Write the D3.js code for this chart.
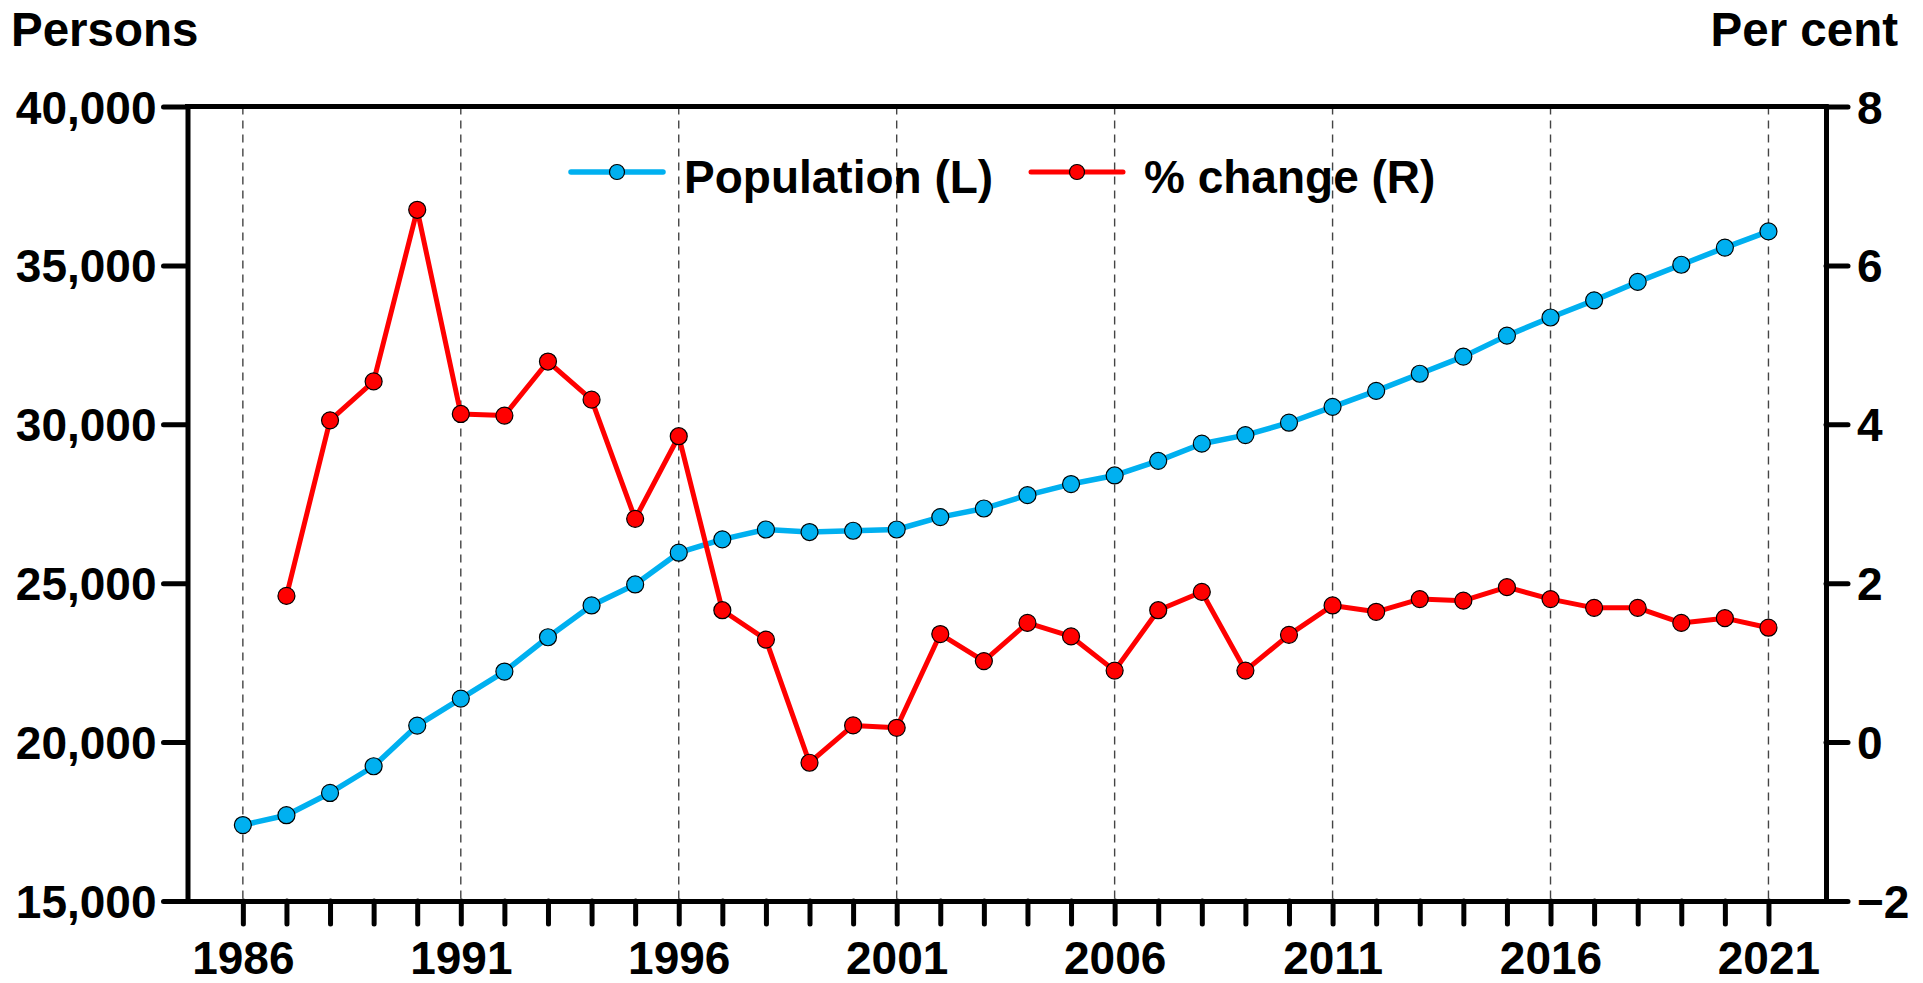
<!DOCTYPE html>
<html>
<head>
<meta charset="utf-8">
<script src="https://cdn.jsdelivr.net/npm/d3@7"></script>
<style>
  html, body { margin: 0; padding: 0; background: #fff; }
  svg { display: block; }
  text { font-family: "Liberation Sans", Arial, Helvetica, sans-serif; font-weight: bold; fill: #000; }
</style>
</head>
<body>
<svg id="chart" width="1923" height="983"></svg>
<script>
// Years shown on the horizontal axis
const years = d3.range(1986, 2022);

// Resident population, persons (left axis)
const population = [
  17390, 17700, 18400, 19240, 20520, 21370, 22220, 23300, 24300, 24960,
  25960, 26380, 26690, 26610, 26650, 26690, 27080, 27350, 27770, 28120,
  28390, 28850, 29390, 29660, 30050, 30550, 31050, 31590, 32130, 32790,
  33360, 33900, 34480, 35020, 35560, 36070
];

// Annual % change in population (right axis); no value for the first year
const pctChange = [
  null, 1.84, 4.05, 4.54, 6.70, 4.13, 4.11, 4.79, 4.31, 2.81,
  3.85, 1.66, 1.29, -0.26, 0.21, 0.18, 1.36, 1.02, 1.50, 1.33,
  0.90, 1.66, 1.89, 0.90, 1.35, 1.72, 1.64, 1.80, 1.78, 1.95,
  1.80, 1.69, 1.69, 1.50, 1.56, 1.44
];

// Axis ticks
const leftTicks = [15000, 20000, 25000, 30000, 35000, 40000];
const rightTicks = [-2, 0, 2, 4, 6, 8];
const labelledYears = [1986, 1991, 1996, 2001, 2006, 2011, 2016, 2021];

const seriesNames = ["Population (L)", "% change (R)"];
const seriesColors = ["#00B0F0", "#FF0000"];

const svg = d3.select("#chart");

const plot = { left: 187.5, right: 1826, top: 106.5, bottom: 901 };

const x = d3.scaleLinear().domain([1984.73, 2022.32]).range([plot.left, plot.right]);
const yL = d3.scaleLinear().domain([15000, 40000]).range([plot.bottom, plot.top]);
const yR = d3.scaleLinear().domain([-2, 8]).range([plot.bottom, plot.top]);

// Dashed vertical gridlines at the labelled years
svg.append("g")
  .selectAll("line")
  .data(labelledYears)
  .join("line")
  .attr("x1", d => x(d)).attr("x2", d => x(d))
  .attr("y1", plot.top).attr("y2", plot.bottom)
  .attr("stroke", "#444")
  .attr("stroke-width", 1.4)
  .attr("stroke-dasharray", "8,6");

// Axes
const axisStroke = 5;
function styleAxis(g) {
  g.selectAll("path.domain").attr("stroke", "#000").attr("stroke-width", axisStroke).attr("stroke-linecap", "square");
  g.selectAll(".tick line").attr("stroke", "#000").attr("stroke-width", axisStroke).attr("stroke-linecap", "round");
  g.selectAll(".tick text").style("font-size", "46px").attr("fill", "#000");
}

svg.append("g")
  .attr("transform", `translate(0,${plot.bottom})`)
  .call(d3.axisBottom(x)
    .tickValues(years)
    .tickSize(23)
    .tickSizeOuter(0)
    .tickPadding(17)
    .tickFormat(d => labelledYears.includes(d) ? String(d) : ""))
  .call(styleAxis);

svg.append("g")
  .attr("transform", `translate(${plot.left},0)`)
  .call(d3.axisLeft(yL)
    .tickValues(leftTicks)
    .tickSize(24)
    .tickSizeOuter(0)
    .tickPadding(7)
    .tickFormat(d3.format(",")))
  .call(styleAxis)
  .call(g => g.selectAll(".tick text").attr("dy", "0.36em"));

svg.append("g")
  .attr("transform", `translate(${plot.right},0)`)
  .call(d3.axisRight(yR)
    .tickValues(rightTicks)
    .tickSize(22)
    .tickSizeOuter(0)
    .tickPadding(9)
    .tickFormat(d3.format("d")))
  .call(styleAxis)
  .call(g => g.selectAll(".tick text").attr("dy", "0.36em"));

// Top frame line
svg.append("line")
  .attr("x1", plot.left).attr("x2", plot.right)
  .attr("y1", plot.top).attr("y2", plot.top)
  .attr("stroke", "#000").attr("stroke-width", axisStroke).attr("stroke-linecap", "square");

// Axis titles
svg.append("text").attr("x", 11).attr("y", 46).style("font-size", "47.5px").text("Persons");
svg.append("text").attr("x", 1898).attr("y", 46).attr("text-anchor", "end").style("font-size", "47.5px").text("Per cent");

// Population series
const popData = years.map((yr, i) => ({ yr, v: population[i] }));
svg.append("path")
  .datum(popData)
  .attr("fill", "none")
  .attr("stroke", seriesColors[0])
  .attr("stroke-width", 5.5)
  .attr("stroke-linejoin", "round")
  .attr("d", d3.line().x(d => x(d.yr)).y(d => yL(d.v)));

// % change series
const chgData = years.map((yr, i) => ({ yr, v: pctChange[i] })).filter(d => d.v !== null);
svg.append("path")
  .datum(chgData)
  .attr("fill", "none")
  .attr("stroke", seriesColors[1])
  .attr("stroke-width", 5)
  .attr("stroke-linejoin", "round")
  .attr("d", d3.line().x(d => x(d.yr)).y(d => yR(d.v)));

svg.append("g")
  .selectAll("circle")
  .data(popData)
  .join("circle")
  .attr("cx", d => x(d.yr)).attr("cy", d => yL(d.v)).attr("r", 8.5)
  .attr("fill", seriesColors[0]).attr("stroke", "#000").attr("stroke-width", 1.2);

svg.append("g")
  .selectAll("circle")
  .data(chgData)
  .join("circle")
  .attr("cx", d => x(d.yr)).attr("cy", d => yR(d.v)).attr("r", 8.5)
  .attr("fill", seriesColors[1]).attr("stroke", "#000").attr("stroke-width", 1.2);

// Legend
const legendItems = [
  { name: seriesNames[0], color: seriesColors[0], x0: 571, width: 5.5 },
  { name: seriesNames[1], color: seriesColors[1], x0: 1031, width: 5 }
];
const legY = 172;
const leg = svg.append("g").selectAll("g").data(legendItems).join("g");
leg.append("line")
  .attr("x1", d => d.x0).attr("x2", d => d.x0 + 92)
  .attr("y1", legY).attr("y2", legY)
  .attr("stroke", d => d.color).attr("stroke-width", d => d.width).attr("stroke-linecap", "round");
leg.append("circle")
  .attr("cx", d => d.x0 + 46).attr("cy", legY).attr("r", 7.5)
  .attr("fill", d => d.color).attr("stroke", "#000").attr("stroke-width", 1.2);
leg.append("text")
  .attr("x", d => d.x0 + 113).attr("y", 193)
  .style("font-size", "46px")
  .text(d => d.name);
</script>
</body>
</html>
